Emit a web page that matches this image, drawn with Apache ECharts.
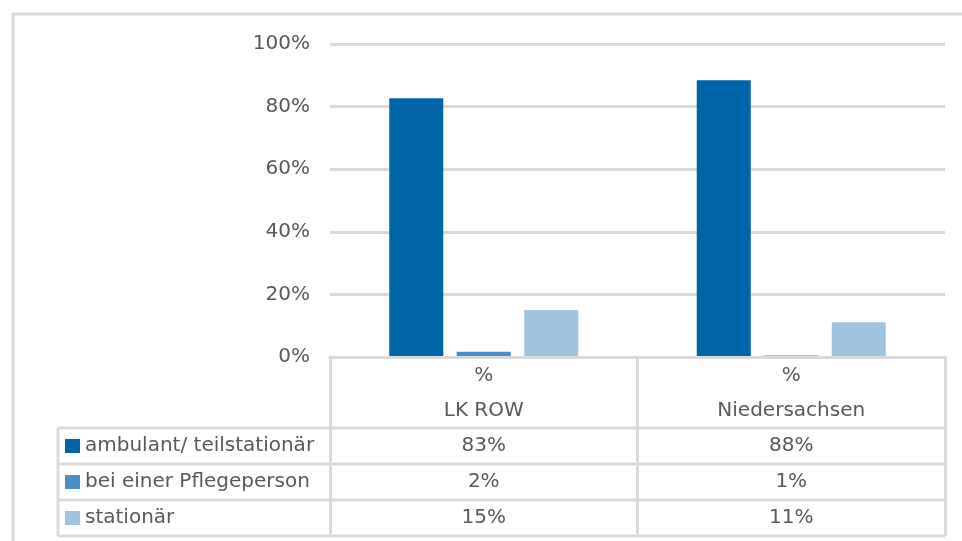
<!DOCTYPE html>
<html>
<head>
<meta charset="utf-8">
<script src="https://cdn.jsdelivr.net/npm/echarts@6/dist/echarts.min.js"></script>
<style>
  html, body { margin: 0; padding: 0; background: #fff; }
  #chart { width: 962px; height: 541px; }
</style>
</head>
<body>
<div id="chart"></div>
<script>
const categories = ["LK ROW", "Niedersachsen"];
const seriesNames = ["ambulant/ teilstationär", "bei einer Pflegeperson", "stationär"];
const ambulant = [82.7, 88.4];
const pflegeperson = [1.7, 0.5];
const stationaer = [15.0, 11.1];
const yTicks = [0, 20, 40, 60, 80, 100];

const colors = ["#0065a8", "#4a90c6", "#9fc4df"];
const txt = "#595959";
const line = "#d9d9d9";
const font = "DejaVu Sans";

const chart = echarts.init(document.getElementById("chart"));

const values = [ambulant, pflegeperson, stationaer];
// one axis per table row, only to print the values under each column
const rowAxes = values.map((arr, r) => ({
  type: "category",
  position: "bottom",
  data: categories,
  axisLine: { show: false },
  axisTick: { show: false },
  axisLabel: {
    margin: 89 + r * 36,
    verticalAlign: "middle",
    color: txt,
    fontFamily: font,
    fontSize: 20,
    formatter: (v, i) => Math.round(arr[i]) + "%",
  },
}));

const tableLines = [428, 464, 500, 536].map((y) => ({
  type: "line",
  shape: { x1: 58, y1: y, x2: 945, y2: y },
  style: { stroke: line, lineWidth: 3 },
}));

const option = {
  animation: false,
  textStyle: { fontFamily: font },
  color: colors,
  grid: { left: 330, right: 17, top: 44, bottom: 184 },
  legend: {
    orient: "vertical",
    left: 65,
    top: 436,
    height: 110,
    icon: "rect",
    itemWidth: 15,
    itemHeight: 14,
    itemGap: 16,
    padding: 0,
    selectedMode: false,
    textStyle: { color: txt, fontFamily: font, fontSize: 20 },
    data: seriesNames,
  },
  xAxis: [
    {
      type: "category",
      data: categories,
      z: 5,
      axisLine: { lineStyle: { color: line, width: 3 } },
      axisTick: { show: true, length: 179, interval: 0, lineStyle: { color: line, width: 3 } },
      axisLabel: {
        margin: 1,
        lineHeight: 35,
        verticalAlign: "top",
        color: txt,
        fontFamily: font,
        fontSize: 20,
        formatter: (v) => "%\n" + v,
      },
    },
  ].concat(rowAxes),
  yAxis: {
    type: "value",
    min: 0,
    max: 100,
    interval: 20,
    axisLine: { show: false },
    axisTick: { show: false },
    splitLine: { lineStyle: { color: line, width: 3 } },
    axisLabel: {
      margin: 20,
      color: txt,
      fontFamily: font,
      fontSize: 20,
      formatter: (v) => (yTicks.indexOf(v) >= 0 ? v + "%" : ""),
    },
  },
  series: values.map((arr, i) => ({
    name: seriesNames[i],
    type: "bar",
    data: arr,
    barWidth: 54,
    barGap: "25%",
    itemStyle: { color: colors[i] },
  })),
  graphic: [
    {
      type: "rect",
      shape: { x: 13, y: 14, width: 960, height: 540 },
      style: { fill: null, stroke: line, lineWidth: 3 },
      z: -1,
    },
    {
      type: "line",
      shape: { x1: 58, y1: 428, x2: 58, y2: 536 },
      style: { stroke: line, lineWidth: 3 },
    },
  ].concat(tableLines),
};

chart.setOption(option);
</script>
</body>
</html>
